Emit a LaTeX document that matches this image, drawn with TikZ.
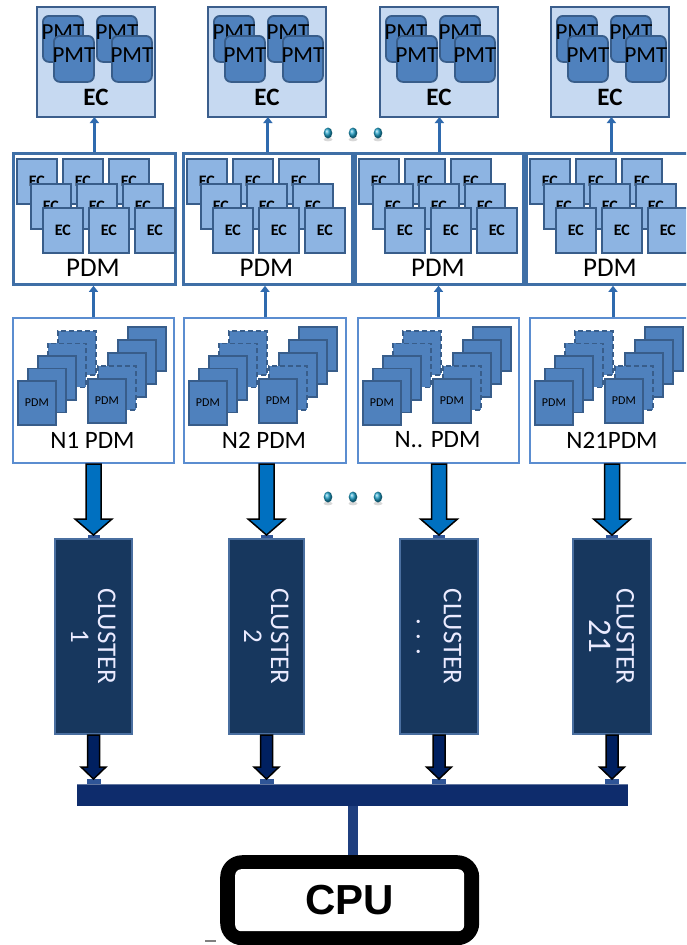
\documentclass[tikz,border=0pt]{standalone}
\usepackage{fontspec}
\setmainfont{Carlito}
\newfontfamily\cpufont{Liberation Sans}
\usetikzlibrary{calc,arrows.meta,shadings}
\newcommand\myfs[1]{\fontsize{#1}{#1}\selectfont}
\definecolor{ecfill}{HTML}{C6D9F1}
\definecolor{ecline}{HTML}{3B5E8C}
\definecolor{pmtfill}{HTML}{4F81BD}
\definecolor{pmtline}{HTML}{385D8A}
\definecolor{smallecfill}{HTML}{8DB4E2}
\definecolor{pdmline}{HTML}{3F6FA6}
\definecolor{npdmline}{HTML}{5B8DD0}
\definecolor{thinarrowcol}{HTML}{2F6AAE}
\definecolor{bigarrowcol}{HTML}{0070C0}
\definecolor{clfill}{HTML}{17375E}
\definecolor{clline}{HTML}{4A6FA0}
\definecolor{lowarrowcol}{HTML}{002060}
\definecolor{busfill}{HTML}{0E2C6C}
\definecolor{stemcol}{HTML}{1F3F7F}
\definecolor{tabcol}{HTML}{2F5597}
\definecolor{dotcol}{HTML}{1EA0C8}
\begin{document}
\begin{tikzpicture}[x=1pt,y=-1pt,
  ecbox/.style={draw=ecline, fill=ecfill, line width=2.5pt, minimum width=118pt, minimum height=110pt, anchor=north west, inner sep=0pt, outer sep=0pt},
  pmt/.style={draw=pmtline, fill=pmtfill, line width=1.8pt, rounded corners=6pt, minimum width=40pt, minimum height=46pt, anchor=north west, inner sep=0pt},
  pmtlbl/.style={font=\myfs{23}, text=black, inner sep=0pt},
  eclbl/.style={font=\bfseries\myfs{25}, inner sep=0pt},
  pdmbox/.style={draw=pdmline, fill=white, line width=2.8pt, minimum height=131pt, anchor=north west, inner sep=0pt},
  smallec/.style={draw=pmtline, fill=smallecfill, line width=1.8pt, minimum width=40pt, minimum height=45pt, anchor=north west, inner sep=0pt, font=\bfseries\myfs{16}},
  bigl/.style={font=\myfs{27}, inner sep=0pt},
  npdmbox/.style={draw=npdmline, fill=white, line width=2pt, minimum height=145pt, anchor=north west, inner sep=0pt},
  pdmsq/.style={draw=pmtline, fill=pmtfill, line width=1.8pt, minimum width=38pt, minimum height=44pt, anchor=north west, inner sep=0pt, font=\myfs{12}},
  dsq/.style={pdmsq, dash pattern=on 5pt off 3pt},
  nlbl/.style={font=\myfs{25}, inner sep=0pt},
  thinarr/.style={draw=thinarrowcol, line width=3pt, -{Triangle[width=9pt,length=6pt]}},
  bigarr/.style={fill=bigarrowcol, draw=black, line width=1.5pt},
  lowarr/.style={fill=lowarrowcol, draw=black, line width=1.5pt},
  clbox/.style={fill=clfill, draw=clline, line width=2pt, minimum height=195pt, anchor=north west, inner sep=0pt},
  cltext/.style={rotate=-90, text=white!92!blue, align=center, font=\myfs{27}, inner sep=0pt},
  busbox/.style={fill=busfill, minimum width=551pt, minimum height=22pt, anchor=north west, inner sep=0pt},
  stem/.style={draw=stemcol, line width=10pt},
  cpuout/.style={fill=black, rounded corners=22pt, minimum width=259pt, minimum height=90pt, anchor=north west, inner sep=0pt},
  cpuin/.style={fill=white, rounded corners=6pt, minimum width=229pt, minimum height=62pt, inner sep=0pt, font=\cpufont\bfseries\myfs{42}}
]
\clip (0,0) rectangle (686,945);
\fill[white] (0,0) rectangle (686,945);

\foreach \i/\xec/\xpl/\xpr/\xnl/\xnr/\xcl/\xcr/\lab/\cnum in {
  1/37/12/174/12/173/54/131/{N1 PDM}/{1},
  2/208/182/351/183/345/228/303/{N2 PDM}/{2},
  3/380/354/522/357/518/399/477/{N.. PDM}/{. . .},
  4/551/525/695/529/695/572/650/{N21PDM}/{\myfs{33}21}}
{
  \pgfmathsetmacro\pw{\xpr-\xpl}
  \pgfmathsetmacro\nw{\xnr-\xnl}
  \pgfmathsetmacro\cw{\xcr-\xcl}
  % ---- top EC box with PMTs
  \node[ecbox] (ec\i) at (\xec,7) {};
  \node[pmt, label={[pmtlbl, yshift=7pt, name=pal\i]center:PMT}] (pa\i) at (\xec+5,15) {};
  \node[pmt, label={[pmtlbl, yshift=3.5pt, name=pbl\i]center:PMT}] (pb\i) at (\xec+16,35) {};
  \node[pmt, label={[pmtlbl, yshift=7pt, name=pcl\i]center:PMT}] (pc\i) at (\xec+59,15) {};
  \node[pmt, label={[pmtlbl, yshift=3.5pt, name=pdl\i]center:PMT}] (pd\i) at (\xec+74,35) {};
  \node[eclbl] (ecl\i) at (\xec+59,97) {EC};
  % ---- PDM box with ECs
  \node[pdmbox, minimum width=\pw pt] (pdm\i) at (\xpl,152) {};
  \foreach \r/\ox/\oy in {0/4/158, 1/18/183, 2/30/207}
    \foreach \c in {0,1,2}
      \node[smallec] (se\i\r\c) at (\xpl+\ox+46*\c,\oy) {EC};
  \node[bigl] (pdml\i) at (\xpl+\pw/2,268) {PDM};
  % ---- N PDM box with stacks
  \node[npdmbox, minimum width=\nw pt] (npdm\i) at (\xnl,317) {};
  \foreach \k in {4,3}
    \node[dsq] (la\i\k) at (\xnl+5+10*\k,380-12.5*\k) {};
  \foreach \k in {2,1}
    \node[pdmsq] (la\i\k) at (\xnl+5+10*\k,380-12.5*\k) {};
  \node[pdmsq] (la\i0) at (\xnl+5,380) {PDM};
  \foreach \k in {4,3,2}
    \node[pdmsq] (ra\i\k) at (\xnl+75+10*\k,378-13*\k) {};
  \node[dsq] (ra\i1) at (\xnl+85,365) {};
  \node[pdmsq] (ra\i0) at (\xnl+75,378) {PDM};
  \node[nlbl] (npdml\i) at (\xnl+\nw/2,440) {\lab};
  % ---- cluster
  \node[clbox, minimum width=\cw pt] (cl\i) at (\xcl,538) {};
  \fill[tabcol] ($(cl\i.north)+(-6,-3)$) rectangle ($(cl\i.north)+(6,0)$);
  \node[cltext] (clt\i) at (cl\i.center) {CLUSTER\\\cnum};
  % ---- thin arrows
  \draw[thinarr] (pdm\i.north) -- (pdm\i.north |- ec\i.south);
  \draw[thinarr] (npdm\i.north) -- (npdm\i.north |- pdm\i.south);
  % ---- big arrow
  \draw[bigarr] let \p1=(npdm\i.south), \p2=(cl\i.north) in
    (\x2-7.5pt,\y1) -- (\x2-7.5pt,\y2+19pt) -- (\x2-18.5pt,\y2+19pt) -- (\x2,\y2+3pt)
    -- (\x2+18.5pt,\y2+19pt) -- (\x2+7.5pt,\y2+19pt) -- (\x2+7.5pt,\y1) -- cycle;
}

% ---- bus
\node[busbox] (bus) at (77,784) {};
\draw[white!35!busfill, line width=1pt] (bus.north west) -- (bus.north east);
\foreach \i in {1,2,3,4}{
  \fill[tabcol] let \p1=(cl\i.south), \p2=(bus.north) in (\x1-7pt,\y2) rectangle (\x1+7pt,\y2+5pt);
  \draw[lowarr] let \p1=(cl\i.south), \p2=(bus.north) in
    (\x1-6pt,\y1) -- (\x1-6pt,\y2+17pt) -- (\x1-12.5pt,\y2+17pt) -- (\x1,\y2+5pt)
    -- (\x1+12.5pt,\y2+17pt) -- (\x1+6pt,\y2+17pt) -- (\x1+6pt,\y1) -- cycle;
}

% ---- dots
\foreach \yy in {133,497}
  \foreach \xx in {328,353,378}{
    \fill[black!30, opacity=0.5] (\xx,\yy+6.5) ellipse (4.5 and 1.8);
    \shade[ball color=dotcol] (\xx,\yy) ellipse (4.3 and 5.5);
  }

% ---- CPU
\node[cpuout] (cpu) at (220,855) {};
\draw[stem] (bus.south) -- (bus.south |- cpu.north);
\node[cpuin] (cpuin) at (cpu.center) {CPU};
\draw[gray, line width=1.2pt] (205,941) -- (216,941);
\end{tikzpicture}
\end{document}
